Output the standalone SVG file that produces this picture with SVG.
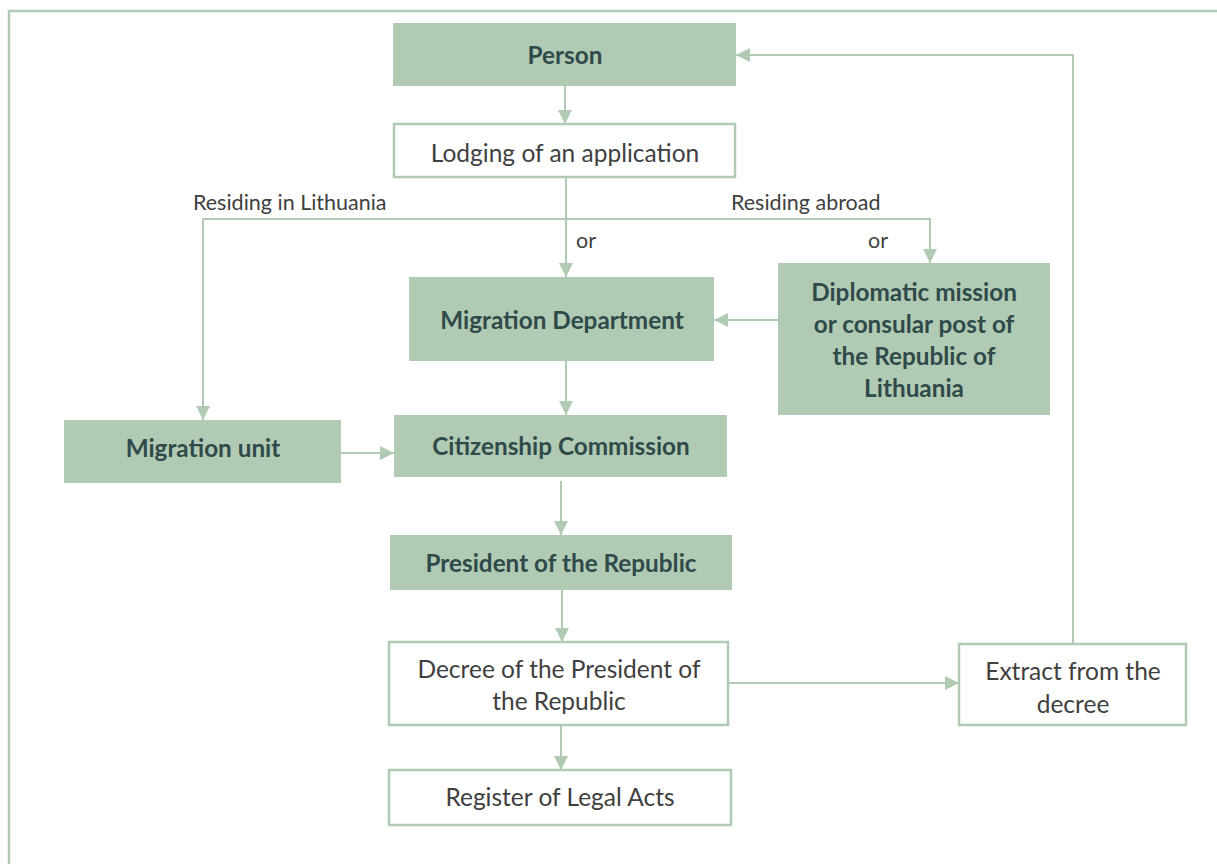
<svg xmlns="http://www.w3.org/2000/svg" width="1217" height="864" viewBox="0 0 1217 864">
<defs>
<style>
.fill{fill:#b1cab3;stroke:none}
.box{fill:#ffffff;stroke:#b1cab3;stroke-width:2.5}
.b{font-family:Lato,"Open Sans",sans-serif;font-weight:bold;font-size:24.3px;fill:#2f4a4a;text-anchor:middle}
.r{font-family:Lato,"Open Sans",sans-serif;font-size:24.5px;fill:#404040;text-anchor:middle}
.s{font-family:Lato,"Open Sans",sans-serif;font-size:21.5px;fill:#404040}
.c{fill:none;stroke:#b1cab3;stroke-width:2}
</style>
<marker id="ah" viewBox="0 0 10 10" refX="10" refY="5" markerWidth="7" markerHeight="7" markerUnits="strokeWidth" orient="auto">
<path d="M0,0 L10,5 L0,10 Z" fill="#b1cab3"/>
</marker>
</defs>
<rect width="1217" height="864" fill="#ffffff"/>
<path d="M9,864 V11 H1217" fill="none" stroke="#b1cab3" stroke-width="2.5"/>

<g id="connectors">
<path class="c" d="M565,86 V124" marker-end="url(#ah)"/>
<path class="c" d="M566,177 V277" marker-end="url(#ah)"/>
<path class="c" d="M203,420 V219 H930 V263" marker-end="url(#ah)"/>
<path class="c" d="M203,219 V420" marker-end="url(#ah)"/>
<path class="c" d="M778,320 H714" marker-end="url(#ah)"/>
<path class="c" d="M566,361 V415" marker-end="url(#ah)"/>
<path class="c" d="M341,453 H394" marker-end="url(#ah)"/>
<path class="c" d="M561,481 V535" marker-end="url(#ah)"/>
<path class="c" d="M562,590 V642" marker-end="url(#ah)"/>
<path class="c" d="M561,725 V770" marker-end="url(#ah)"/>
<path class="c" d="M728,683 H959" marker-end="url(#ah)"/>
<path class="c" d="M1073,644 V55 H736" marker-end="url(#ah)"/>
<text class="s" x="193" y="210">Residing in Lithuania</text>
<text class="s" x="731" y="210">Residing abroad</text>
<text class="s" x="576" y="248">or</text>
<text class="s" x="868" y="248">or</text>
</g>

<g id="person"><rect class="fill" x="393" y="23" width="343" height="63"/><text class="b" x="565" y="64">Person</text></g>
<g id="lodging"><rect class="box" x="394" y="124" width="341" height="53"/><text class="r" x="565" y="162">Lodging of an application</text></g>
<g id="migration-department"><rect class="fill" x="409" y="277" width="305" height="84"/><text class="b" x="562" y="329">Migration Department</text></g>
<g id="diplomatic"><rect class="fill" x="778" y="263" width="272" height="152"/>
<text class="b" x="914" y="301">Diplomatic mission</text>
<text class="b" x="914" y="333">or consular post of</text>
<text class="b" x="914" y="365">the Republic of</text>
<text class="b" x="914" y="397">Lithuania</text></g>
<g id="migration-unit"><rect class="fill" x="64" y="420" width="277" height="63"/><text class="b" x="203" y="457">Migration unit</text></g>
<g id="citizenship"><rect class="fill" x="394" y="415" width="333" height="62"/><text class="b" x="561" y="455">Citizenship Commission</text></g>
<g id="president"><rect class="fill" x="390" y="535" width="342" height="55"/><text class="b" x="561" y="572">President of the Republic</text></g>
<g id="decree"><rect class="box" x="389" y="642" width="339" height="83"/>
<text class="r" x="559" y="678">Decree of the President of</text>
<text class="r" x="559" y="710">the Republic</text></g>
<g id="extract"><rect class="box" x="959" y="644" width="227" height="81"/>
<text class="r" x="1073" y="680">Extract from the</text>
<text class="r" x="1073" y="713">decree</text></g>
<g id="register"><rect class="box" x="389" y="770" width="342" height="55"/><text class="r" x="560" y="806">Register of Legal Acts</text></g>
</svg>
